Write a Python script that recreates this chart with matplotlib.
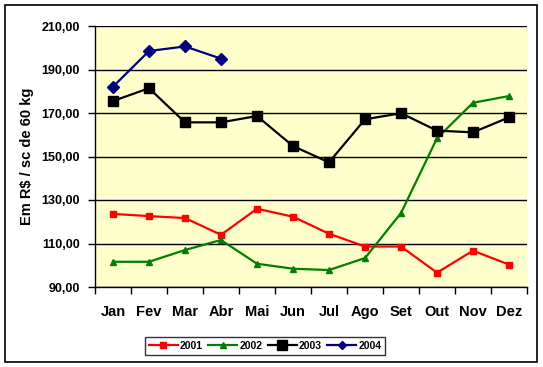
"""Precos medios mensais por saca de 60 kg, 2001-2004."""
import numpy as np
import matplotlib
matplotlib.use("Agg")
import matplotlib.pyplot as plt
from matplotlib.patches import Rectangle

months = ["Jan", "Fev", "Mar", "Abr", "Mai", "Jun",
          "Jul", "Ago", "Set", "Out", "Nov", "Dez"]
y2001 = [123.6, 122.6, 121.7, 114.0, 126.0, 122.3,
         114.5, 108.6, 108.6, 96.6, 106.7, 100.3]
y2002 = [101.6, 101.6, 107.0, 111.6, 100.7, 98.4,
         97.8, 103.3, 124.0, 158.4, 174.7, 177.8]
y2003 = [175.5, 181.4, 165.7, 165.7, 168.6, 154.8,
         147.3, 167.1, 169.9, 161.9, 161.1, 168.0]
y2004 = [182.1, 198.5, 200.6, 195.0]
yticks = [90, 110, 130, 150, 170, 190, 210]

plt.rcParams["font.family"] = ["Liberation Sans", "DejaVu Sans"]
plt.rcParams["font.weight"] = "bold"
plt.rcParams["axes.labelweight"] = "bold"

W, H = 543, 367
fig = plt.figure(figsize=(W / 100, H / 100), dpi=100)
fig.patch.set_facecolor("white")

# outer chart border
fig.patches.append(Rectangle((5 / W, 1 - 362 / H), 532 / W, 357 / H,
                             transform=fig.transFigure, fill=False,
                             edgecolor="black", linewidth=1.2))

# plot area in pixels: x 95..527, y 26..287
ax = fig.add_axes([95 / W, 1 - 287 / H, 432 / W, 261 / H])
ax.set_facecolor("#FFFFCC")

x = np.arange(len(months))
ax.plot(x, y2001, color="#FF0000", lw=1.6, marker="s", ms=5, label="2001")
ax.plot(x, y2002, color="#008000", lw=1.6, marker="^", ms=5, label="2002")
ax.plot(x, y2003, color="black", lw=1.6, marker="s", ms=7.5, label="2003")
ax.plot(x[:len(y2004)], y2004, color="#000080", lw=1.6, marker="D", ms=6,
        label="2004")

ax.set_xlim(-0.5, 11.5)
ax.set_ylim(90, 210)
ax.set_yticks(yticks)
ax.set_yticklabels([f"{v:.2f}".replace(".", ",") for v in yticks], fontsize=9)
ax.yaxis.grid(True, color="black", lw=1)
ax.set_axisbelow(True)

ax.set_xticks(x)
ax.set_xticklabels(months, fontsize=10.5)
ax.set_xticks(np.arange(-0.5, 12, 1), minor=True)
ax.tick_params(axis="x", which="major", length=0, pad=13)
ax.tick_params(axis="x", which="minor", length=5, width=1, direction="out")
ax.tick_params(axis="y", length=5, width=1, direction="out", pad=6)

for s in ["top", "right"]:
    ax.spines[s].set_visible(False)
for s in ["left", "bottom"]:
    ax.spines[s].set_linewidth(1)

ax.set_ylabel("Em R$ / sc de 60 kg", fontsize=10.5, labelpad=5)

leg = ax.legend(loc="upper center", bbox_to_anchor=(265 / W, 1 - 332 / H),
                bbox_transform=fig.transFigure, ncol=4, fontsize=7.5,
                frameon=True, fancybox=False, edgecolor="black",
                handlelength=2.8, handletextpad=0.2, columnspacing=0.5,
                borderpad=0.35)
leg.get_frame().set_linewidth(1)
leg.legend_handles[3].set_markersize(4)

fig.savefig("out.png", dpi=100)
